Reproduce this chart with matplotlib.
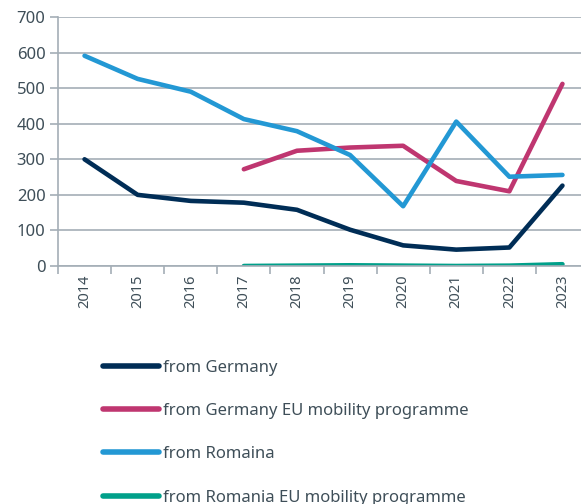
import matplotlib
matplotlib.use("Agg")
import matplotlib.pyplot as plt
import numpy as np

years = ["2014", "2015", "2016", "2017", "2018", "2019", "2020", "2021", "2022", "2023"]
from_germany = [300, 200, 183, 178, 158, 102, 58, 46, 52, 226]
from_germany_eu = [np.nan, np.nan, np.nan, 272, 324, 333, 338, 239, 210, 512]
from_romania = [591, 526, 490, 413, 379, 312, 168, 406, 251, 256]
from_romania_eu = [np.nan, np.nan, np.nan, 0, 1, 2, 1, 0, 1, 5]

labels = ["from Germany", "from Germany EU mobility programme",
          "from Romaina", "from Romania EU mobility programme"]
colors = ["#002d56", "#bf3670", "#2398d4", "#00a08a"]

plt.rcParams['font.family'] = ['Noto Sans', 'DejaVu Sans']
text_col = "#3e4e58"
grid_col = "#a4aeb6"

fig = plt.figure(figsize=(5.81, 5.04), dpi=100)
ax = fig.add_axes([58 / 581, 238 / 504, 531 / 581, 249 / 504])

x = np.arange(len(years))
for vals, lab, col in zip([from_germany, from_germany_eu, from_romania, from_romania_eu], labels, colors):
    ax.plot(x, vals, color=col, lw=3.3, label=lab, solid_capstyle="round", solid_joinstyle="round")

ax.set_xlim(-0.5, len(years) - 0.5)
ax.set_ylim(0, 700)
ax.set_yticks(range(0, 701, 100))
ax.grid(axis="y", color=grid_col, lw=1.2)
ax.set_axisbelow(True)

ax.set_xticks(x)
ax.set_xticklabels(years, rotation=90, fontsize=10.5, color=text_col)
ax.set_xticks(np.arange(-0.5, len(years), 1), minor=True)
ax.tick_params(axis="x", which="major", length=0, pad=6)
ax.tick_params(axis="x", which="minor", length=6, color=grid_col, width=1.2)
ax.tick_params(axis="y", length=6, color=grid_col, width=1.2, labelsize=12, labelcolor=text_col, pad=3)

for s in ["top", "right"]:
    ax.spines[s].set_visible(False)
ax.spines["left"].set_color(grid_col)
ax.spines["bottom"].set_color(grid_col)
ax.spines["left"].set_linewidth(1.2)
ax.spines["bottom"].set_linewidth(1.2)

leg = ax.legend(loc="upper left", bbox_to_anchor=(96 / 581, 1 - 353 / 504), bbox_transform=fig.transFigure,
                frameon=False, fontsize=12, handlelength=3.4, handletextpad=0.2, labelspacing=1.64,
                borderaxespad=0)
for t in leg.get_texts():
    t.set_color(text_col)
for h in leg.get_lines():
    h.set_linewidth(4)

fig.savefig("out.png", dpi=100)
